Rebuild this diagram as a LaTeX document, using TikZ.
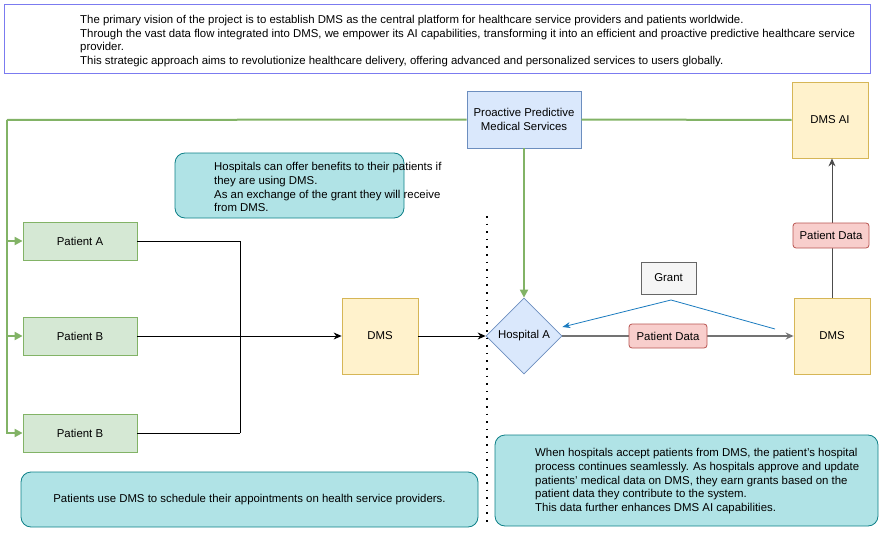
\documentclass[tikz,border=0pt]{standalone}
\usepackage{fontspec}
\setmainfont{Liberation Sans}
\usetikzlibrary{arrows.meta,shapes.geometric}
\definecolor{gF}{HTML}{D5E8D4}\definecolor{gD}{HTML}{82B366}
\definecolor{yF}{HTML}{FFF2CC}\definecolor{yD}{HTML}{D6B656}
\definecolor{bF}{HTML}{DAE8FC}\definecolor{bD}{HTML}{6C8EBF}
\definecolor{nF}{HTML}{B0E3E6}\definecolor{nD}{HTML}{0E8088}
\definecolor{rF}{HTML}{F8CECC}\definecolor{rD}{HTML}{B85450}
\definecolor{sF}{HTML}{F5F5F5}\definecolor{sD}{HTML}{666666}
\definecolor{tD}{HTML}{7B7BF0}\definecolor{blu}{HTML}{1A7BBF}
\begin{document}
\begin{tikzpicture}[x=1pt,y=-1pt,
  font=\fontsize{11.4}{13.6}\selectfont,
  base/.style={draw,rectangle,inner sep=0pt,line width=0.8pt,align=center},
  patbox/.style={base,fill=gF,draw=gD,minimum width=114pt,minimum height=38pt},
  yelbox/.style={base,fill=yF,draw=yD,minimum width=76pt,minimum height=76pt},
  notebox/.style={base,rounded corners=10pt,fill=nF,draw=nD},
  lbl/.style={base,rounded corners=3pt,fill=rF,draw=rD,minimum width=78pt,minimum height=24pt},
  gline/.style={draw=gD,line width=2pt},
  garr/.style={gline,-{Triangle[length=8pt,width=8pt]}},
  karr/.style={draw=black,line width=0.8pt,-{Stealth[length=8pt,width=7pt]}},
]
\useasboundingbox (0,0) rectangle (881,535);
% top box
\node[base,draw=tD,fill=white,minimum width=866pt,minimum height=69pt] (top) at (437,38.5) {};
\node[anchor=north west,align=left,inner sep=0pt] (toptxt) at (80,15) {The primary vision of the project is to establish DMS as the central platform for healthcare service providers and patients worldwide.\\
Through the vast data flow integrated into DMS, we empower its AI capabilities, transforming it into an efficient and proactive predictive healthcare service\\
provider.\\
This strategic approach aims to revolutionize healthcare delivery, offering advanced and personalized services to users globally.};
% nodes
\node[base,fill=bF,draw=bD,minimum width=114pt,minimum height=57pt] (pro) at (524,119.5) {Proactive Predictive\\Medical Services};
\node[yelbox] (dmsai) at (830,120) {DMS AI};
\node[notebox,minimum width=229pt,minimum height=65pt] (n1) at (289.5,185.5) {};
\node[anchor=north west,align=left,inner sep=0pt] (n1t) at (214,162.5) {Hospitals can offer benefits to their patients if\\they are using DMS.\\As an exchange of the grant they will receive\\from DMS.};
\node[patbox] (pA) at (80,241) {Patient A};
\node[patbox] (pB) at (80,336) {Patient B};
\node[patbox] (pC) at (80,433) {Patient B};
\node[yelbox] (dms1) at (380,336) {DMS};
\node[diamond,draw=bD,fill=bF,line width=0.8pt,minimum width=76pt,minimum height=76pt,inner sep=0pt] (hosp) at (524,336) {Hospital A};
\node[yelbox] (dms2) at (832,336) {DMS};
\node[base,fill=sF,draw=sD,minimum width=55pt,minimum height=32pt] (grant) at (668.5,278) {Grant};
\node[notebox,minimum width=383pt,minimum height=91pt] (n2) at (686.5,480.5) {};
\node[anchor=north west,align=left,inner sep=0pt] (n2t) at (535,448.5) {When hospitals accept patients from DMS, the patient's hospital\\process continues seamlessly. As hospitals approve and update\\patients' medical data on DMS, they earn grants based on the\\patient data they contribute to the system.\\This data further enhances DMS AI capabilities.};
\node[notebox,minimum width=457pt,minimum height=55pt] (n3) at (249.5,499.5) {Patients use DMS to schedule their appointments on health service providers.};
% green connectors
\coordinate (gl) at (7,120);
\draw[gline] (pro.west) -- (gl);
\draw[garr] (gl) |- (pA.west);
\draw[garr] (gl) |- (pB.west);
\draw[garr] (gl) |- (pC.west);
\draw[gline] (pro.east) -- (dmsai.west);
\draw[garr] (pro.south) -- (hosp.north);
% black connectors
\coordinate (jb) at (240,433);
\draw[line width=0.8pt] (pA.east) -| (jb);
\draw[line width=0.8pt] (jb) -- (pC.east);
\draw[karr] (pB.east) -- (dms1.west);
\draw[karr] (dms1.east) -- (hosp.west);
\draw[karr,draw=black!55,line width=1.3pt] (hosp.east) -- (dms2.west);
\draw[karr,draw=black!70,line width=1pt] (dms2.north) -- (dms2.north|-dmsai.south);
\node[lbl] (pd1) at (668,336) {Patient Data};
\node[lbl,minimum width=76pt,minimum height=25pt] (pd2) at (831,235.5) {Patient Data};
% grant line
\coordinate (gs) at (775,329);
\coordinate (gp) at (671,300);
\draw[draw=blu,line width=0.8pt,-{Stealth[length=8pt,width=6pt]}] (gs) -- (gp) -- (hosp.east|-0,327) ;
% dotted separator
\coordinate (d1) at (487,216);
\coordinate (d2) at (487,525);
\draw[line width=2pt,dash pattern=on 1.5pt off 6.1pt] (d1) -- (d2);
\end{tikzpicture}
\end{document}
